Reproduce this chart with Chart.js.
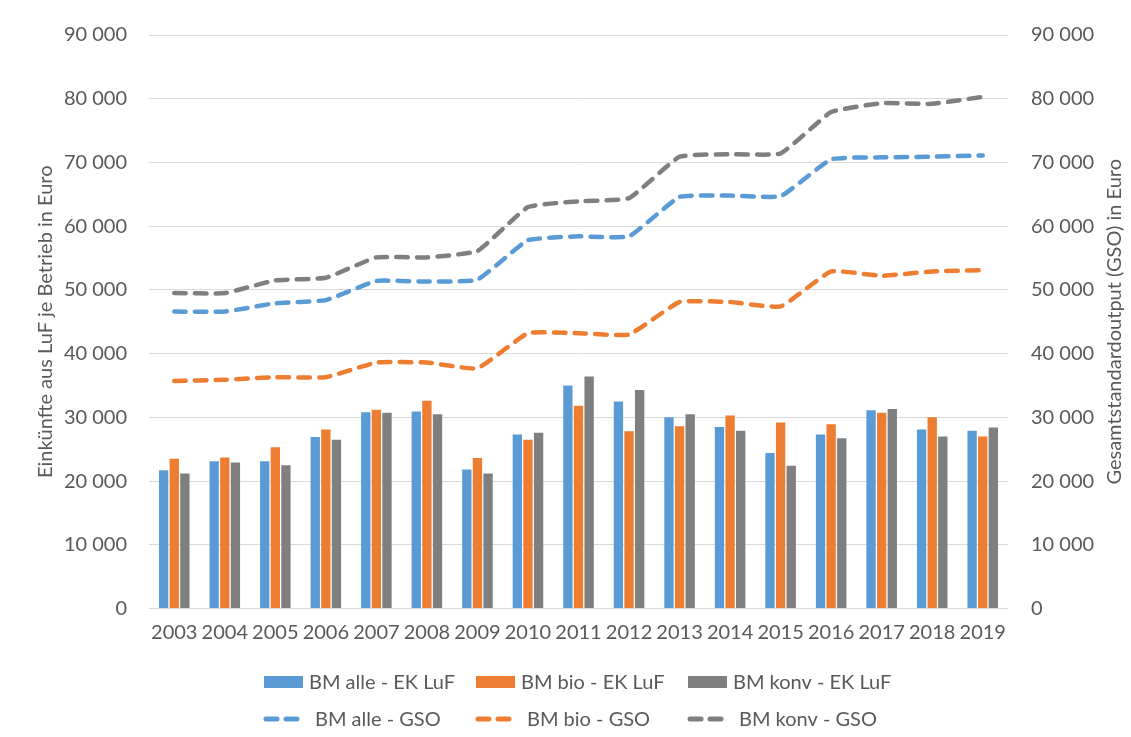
<!DOCTYPE html>
<html>
<head>
<meta charset="utf-8">
<script src="https://cdn.jsdelivr.net/npm/chart.js@4/dist/chart.umd.min.js"></script>
<style>
  html, body { margin: 0; padding: 0; background: #fff; }
  #wrap { width: 1131px; height: 737px; }
</style>
</head>
<body>
<div id="wrap"><canvas id="c" width="1131" height="737"></canvas></div>
<script>
const years = ['2003','2004','2005','2006','2007','2008','2009','2010','2011','2012','2013','2014','2015','2016','2017','2018','2019'];
const ekAlle = [21700, 23100, 23100, 26900, 30800, 30900, 21800, 27300, 35000, 32500, 30000, 28500, 24400, 27300, 31100, 28100, 27900];
const ekBio  = [23500, 23700, 25300, 28100, 31200, 32600, 23600, 26500, 31800, 27800, 28600, 30300, 29200, 28900, 30700, 30000, 27000];
const ekKonv = [21200, 22900, 22500, 26500, 30700, 30500, 21200, 27600, 36400, 34300, 30500, 27900, 22400, 26700, 31300, 27000, 28400];
const gsoAlle = [46600, 46600, 47900, 48400, 51400, 51300, 51600, 57800, 58400, 58400, 64600, 64800, 64700, 70500, 70800, 70900, 71100];
const gsoBio  = [35700, 35900, 36300, 36300, 38600, 38600, 37700, 43200, 43200, 43000, 48100, 48100, 47400, 52900, 52200, 52900, 53100];
const gsoKonv = [49500, 49500, 51500, 51900, 55100, 55100, 56100, 63000, 63900, 64400, 70900, 71300, 71400, 77900, 79300, 79200, 80300];
const labels = ['BM alle - EK LuF','BM bio - EK LuF','BM konv - EK LuF','BM alle - GSO','BM bio - GSO','BM konv - GSO'];
const leftTitle = 'Einkünfte aus LuF je Betrieb in Euro';
const rightTitle = 'Gesamtstandardoutput (GSO) in Euro';

const BLUE = '#5B9BD5', ORANGE = '#ED7D31', GRAY = '#7F7F7F';
const TXT = '#595959';
const FONT = 'Lato';

const fmt = v => String(v).replace(/\B(?=(\d{3})+(?!\d))/g, ' ');

function barDs(label, data, color) {
  return { type: 'bar', label, data, backgroundColor: color, borderWidth: 0,
           yAxisID: 'y', order: 2, categoryPercentage: 0.63, barPercentage: 0.88 };
}
function lineDs(label, data, color) {
  return { type: 'line', label, data, borderColor: color, backgroundColor: color,
           borderWidth: 4.5, borderDash: [11.5, 9.2], borderCapStyle: 'round',
           borderJoinStyle: 'round', pointRadius: 0, tension: 0.12, fill: false,
           yAxisID: 'y2', order: 1 };
}

const legendPlugin = {
  id: 'excelLegend',
  afterDraw(chart) {
    const ctx = chart.ctx;
    const ca = chart.chartArea;
    const cx = (ca.left + ca.right) / 2;
    const colW = 212;
    const x0 = cx - 314.5;
    const rows = [682, 719];
    ctx.save();
    ctx.font = '20px ' + FONT;
    ctx.fillStyle = TXT;
    ctx.textBaseline = 'middle';
    chart.data.datasets.forEach((ds, i) => {
      const row = i < 3 ? 0 : 1;
      const col = i % 3;
      const x = x0 + col * colW;
      const y = rows[row];
      if (ds.type === 'bar') {
        ctx.fillStyle = ds.backgroundColor;
        ctx.fillRect(x, y - 6, 39, 12);
        ctx.fillStyle = TXT;
        ctx.fillText(ds.label, x + 45, y + 1);
      } else {
        ctx.strokeStyle = ds.borderColor;
        ctx.lineWidth = 5;
        ctx.lineCap = 'round';
        ctx.beginPath();
        ctx.moveTo(x + 2, y); ctx.lineTo(x + 13, y);
        ctx.moveTo(x + 22, y); ctx.lineTo(x + 33, y);
        ctx.stroke();
        ctx.fillStyle = TXT;
        ctx.fillText(ds.label, x + 51, y + 1);
      }
    });
    // right axis title, reading bottom-to-top
    ctx.save();
    ctx.translate(1115, (ca.top + ca.bottom) / 2);
    ctx.rotate(-Math.PI / 2);
    ctx.textAlign = 'center';
    ctx.textBaseline = 'middle';
    ctx.fillStyle = TXT;
    ctx.font = '20px ' + FONT;
    ctx.fillText(rightTitle, 0, 0);
    ctx.restore();
    ctx.restore();
  }
};

new Chart(document.getElementById('c'), {
  data: {
    labels: years,
    datasets: [
      barDs(labels[0], ekAlle, BLUE),
      barDs(labels[1], ekBio, ORANGE),
      barDs(labels[2], ekKonv, GRAY),
      lineDs(labels[3], gsoAlle, BLUE),
      lineDs(labels[4], gsoBio, ORANGE),
      lineDs(labels[5], gsoKonv, GRAY)
    ]
  },
  options: {
    responsive: false,
    devicePixelRatio: 1,
    animation: false,
    layout: { padding: { top: 34, bottom: 88.5, left: 0, right: 0 } },
    plugins: { legend: { display: false }, tooltip: { enabled: false } },
    scales: {
      x: {
        grid: { display: false, drawTicks: false },
        border: { display: false },
        ticks: { color: TXT, font: { family: FONT, size: 20 }, padding: 12, maxRotation: 0, autoSkip: false },
        afterFit(s) { s.height = 40; }
      },
      y: {
        position: 'left',
        min: 0, max: 90000,
        ticks: { stepSize: 10000, color: TXT, font: { family: FONT, size: 20 }, padding: 22, callback: v => fmt(v) },
        grid: { color: '#D9D9D9', lineWidth: 1, drawTicks: false },
        border: { display: false },
        title: { display: true, text: leftTitle, color: TXT, font: { family: FONT, size: 20 }, padding: { top: 34, bottom: 0 } },
        afterFit(s) { s.width = 149; }
      },
      y2: {
        position: 'right',
        min: 0, max: 90000,
        ticks: { stepSize: 10000, color: TXT, font: { family: FONT, size: 20 }, padding: 23, callback: v => fmt(v) },
        grid: { display: false, drawTicks: false },
        border: { display: false },
        afterFit(s) { s.width = 123; }
      }
    }
  },
  plugins: [legendPlugin]
});
</script>
</body>
</html>
